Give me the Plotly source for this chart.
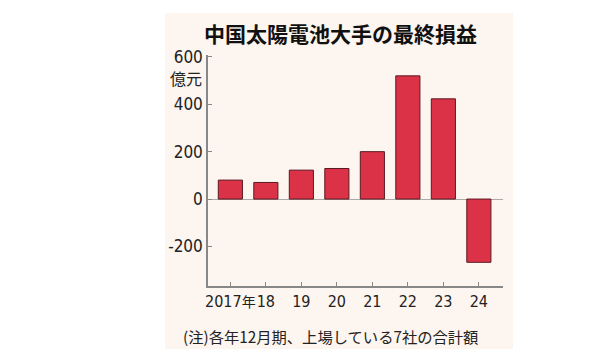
import plotly.graph_objects as go

years = ["2017年", "18", "19", "20", "21", "22", "23", "24"]
profit = [80, 70, 122, 129, 200, 520, 423, -267]
y_ticks = [-200, 0, 200, 400, 600]
y_tick_text = ["-200", "0", "200", "400", "600"]

title_text = "中国太陽電池大手の最終損益"
unit_text = "億元"
note_text = "(注)各年12月期、上場している7社の合計額"

num_font = "DejaVu Sans Condensed, Noto Sans CJK JP, sans-serif"
cjk_font = "Noto Sans CJK JP, sans-serif"

x_idx = list(range(len(years)))
tick_labels = [t.replace("年", "<span style='font-size:14px'>年</span>") for t in years]

fig = go.Figure()
fig.add_trace(go.Bar(
    x=x_idx, y=profit, width=0.68,
    marker=dict(color="#dc3247", line=dict(color="#5a1a22", width=1)),
))

# page body has an 8px margin; work in screen pixels and convert
OFF = 8
W, H = 600 - OFF, 358 - OFF
L, T = 208 - OFF, 55 - OFF
R, B = W - (503 - OFF), H - (286 - OFF)
pw, ph = W - L - R, H - T - B

def px(xp):
    return (xp - OFF - L) / pw

def py(yp):
    return (H - B - (yp - OFF)) / ph

fig.update_layout(
    width=W, height=H,
    margin=dict(l=L, r=R, t=T, b=B),
    paper_bgcolor="white",
    plot_bgcolor="rgba(0,0,0,0)",
    showlegend=False,
    shapes=[dict(type="rect", xref="paper", yref="paper",
                 x0=px(165), x1=px(513), y0=py(349), y1=py(13),
                 fillcolor="#fdf5ef", line=dict(width=0), layer="below")],
    annotations=[
        dict(text=f"<b>{title_text}</b>", xref="paper", yref="paper",
             x=px(340), y=py(33), xanchor="center", yanchor="middle",
             showarrow=False, font=dict(family=cjk_font, size=21, color="#111")),
        dict(text=unit_text, xref="paper", yref="paper",
             x=px(204), y=py(78), xanchor="right", yanchor="middle",
             showarrow=False, font=dict(family=cjk_font, size=16, color="#222")),
        dict(text=note_text, xref="paper", yref="paper",
             x=px(181), y=py(336), xanchor="left", yanchor="middle",
             showarrow=False, font=dict(family=cjk_font, size=15.3, color="#222")),
    ],
)

fig.update_xaxes(
    range=[-0.63, 7.68],
    tickvals=x_idx, ticktext=tick_labels, tickangle=0,
    ticks="inside", ticklen=4, tickcolor="#888",
    showline=True, linecolor="#888", linewidth=1.5,
    showgrid=False, zeroline=False,
    tickfont=dict(family=num_font, size=16, color="#222"),
    fixedrange=True,
)
fig.update_yaxes(
    range=[-367, 608],
    tickvals=y_ticks, ticktext=y_tick_text,
    ticks="inside", ticklen=4, tickcolor="#888",
    showline=True, linecolor="#888", linewidth=1.5,
    showgrid=False,
    zeroline=True, zerolinecolor="#aaa", zerolinewidth=1,
    tickfont=dict(family=num_font, size=17, color="#222"),
    fixedrange=True,
)

fig.write_html("out.html")
